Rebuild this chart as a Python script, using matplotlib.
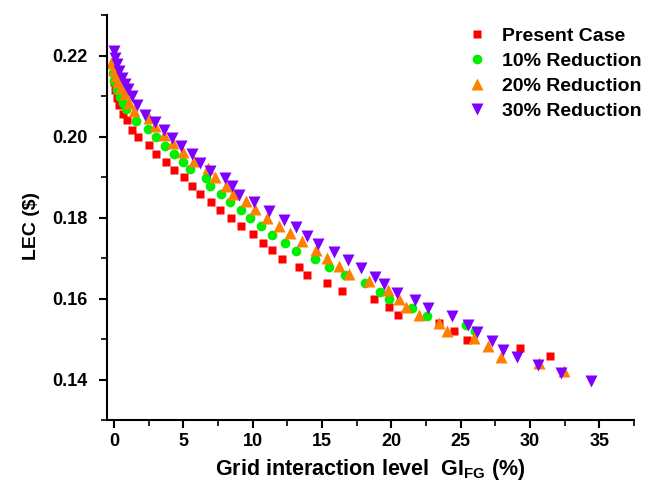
import matplotlib
matplotlib.use('Agg')
import matplotlib.pyplot as plt
from matplotlib.ticker import MultipleLocator

plt.rcParams['font.family'] = ['Liberation Sans', 'DejaVu Sans']
plt.rcParams['font.weight'] = 'bold'
plt.rcParams['mathtext.fontset'] = 'custom'
plt.rcParams['mathtext.rm'] = 'Liberation Sans:bold'
plt.rcParams['mathtext.bf'] = 'Liberation Sans:bold'
plt.rcParams['mathtext.it'] = 'Liberation Sans:bold'

# Present Case
x_present = [0.0, 0.07, 0.2, 0.38, 0.62, 0.91, 1.27, 1.75, 2.52, 3.07, 3.74, 4.32,
             5.06, 5.61, 6.19, 7.03, 7.63, 8.47, 9.19, 10.02, 10.74, 11.39, 12.14,
             13.33, 13.9, 15.35, 16.45, 18.73, 19.81, 20.48, 23.45, 24.53, 25.48,
             29.28, 31.46]
y_present = [0.2134, 0.2114, 0.2096, 0.2077, 0.2056, 0.2040, 0.2017, 0.1998, 0.1978,
             0.1958, 0.1938, 0.1918, 0.1900, 0.1878, 0.1859, 0.1838, 0.1818, 0.1799,
             0.1778, 0.1760, 0.1738, 0.1719, 0.1697, 0.1679, 0.1658, 0.1638, 0.1618,
             0.1598, 0.1579, 0.1559, 0.1539, 0.1519, 0.1498, 0.1479, 0.1458]

# 10% Reduction
x_10 = [-0.1, 0.0, 0.25, 0.45, 0.65, 0.84, 1.56, 2.47, 3.07, 3.72, 4.34, 4.99, 5.52,
        6.62, 6.91, 7.75, 8.35, 9.14, 9.83, 10.63, 11.39, 12.37, 13.14, 14.53, 15.49,
        16.69, 18.13, 19.19, 19.86, 21.49, 22.57, 25.36, 26.04]
y_10 = [0.2158, 0.2136, 0.2114, 0.2098, 0.2082, 0.2067, 0.2038, 0.2019, 0.1998, 0.1976,
        0.1957, 0.1937, 0.1919, 0.1898, 0.1879, 0.1857, 0.1838, 0.1818, 0.1798, 0.1778,
        0.1756, 0.1738, 0.1717, 0.1697, 0.1678, 0.1659, 0.1639, 0.1617, 0.1598, 0.1576,
        0.1556, 0.1536, 0.1519]

# 20% Reduction
x_20 = [-0.2, 0.0, 0.15, 0.3, 0.5, 0.77, 1.08, 1.44, 2.54, 2.95, 3.6, 4.27, 4.99, 5.78,
        6.78, 7.27, 8.06, 8.58, 9.55, 10.14, 11.03, 11.89, 12.71, 13.55, 14.58, 15.35,
        16.21, 16.93, 18.42, 19.73, 20.53, 21.06, 22.01, 23.45, 24.05, 25.97, 27.0,
        27.89, 30.65, 32.45]
y_20 = [0.2182, 0.2165, 0.2150, 0.2135, 0.2120, 0.2104, 0.2083, 0.2062, 0.2046, 0.2025,
        0.2004, 0.1983, 0.1961, 0.1939, 0.1922, 0.1901, 0.1877, 0.1859, 0.1842, 0.1821,
        0.1799, 0.1780, 0.1761, 0.1741, 0.1720, 0.1700, 0.1681, 0.1661, 0.1643, 0.1621,
        0.1598, 0.1579, 0.1560, 0.1540, 0.1519, 0.1502, 0.1482, 0.1457, 0.1441, 0.1420]

# 30% Reduction
x_30 = [0.0, 0.1, 0.25, 0.4, 0.6, 0.8, 1.0, 1.3, 1.7, 2.23, 2.95, 3.62, 4.19, 4.87,
        5.63, 6.19, 6.91, 8.04, 8.54, 9.01, 10.09, 11.17, 12.25, 13.14, 13.91, 14.7,
        15.85, 16.91, 17.82, 18.85, 19.5, 20.45, 21.73, 22.66, 24.41, 25.54, 26.21,
        27.29, 28.08, 29.09, 30.58, 32.21, 34.44]
y_30 = [0.2211, 0.2195, 0.2178, 0.2161, 0.2145, 0.2130, 0.2118, 0.2100, 0.2079, 0.2054,
        0.2035, 0.2017, 0.1997, 0.1976, 0.1957, 0.1934, 0.1916, 0.1897, 0.1877, 0.1856,
        0.1838, 0.1817, 0.1794, 0.1776, 0.1754, 0.1735, 0.1716, 0.1696, 0.1676, 0.1654,
        0.1635, 0.1615, 0.1597, 0.1577, 0.1556, 0.1535, 0.1517, 0.1496, 0.1473, 0.1455,
        0.1437, 0.1416, 0.1396]

fig = plt.figure(figsize=(6.62, 4.84), dpi=100)
ax = fig.add_axes([0.1616, 0.132, 0.796, 0.837])

ax.plot(x_present, y_present, 's', color='#ff0000', ms=6.3, mec='none', label='Present Case')
ax.plot(x_10, y_10, 'o', color='#00ee00', ms=7, mec='none', label='10% Reduction')
ax.plot(x_20, y_20, '^', color='#ff8000', ms=8.5, mec='none', label='20% Reduction')
ax.plot(x_30, y_30, 'v', color='#8000ff', ms=8.5, mec='none', label='30% Reduction')

ax.set_xlim(-0.5, 37.5)
ax.set_ylim(0.13, 0.23)
ax.xaxis.set_major_locator(MultipleLocator(5))
ax.xaxis.set_minor_locator(MultipleLocator(2.5))
ax.yaxis.set_minor_locator(MultipleLocator(0.01))
ax.set_yticks([0.14, 0.16, 0.18, 0.20, 0.22])
ax.set_yticklabels(['0.14', '0.16', '0.18', '0.20', '0.22'])

for s in ['top', 'right']:
    ax.spines[s].set_visible(False)
for s in ['left', 'bottom']:
    ax.spines[s].set_linewidth(1.5)
ax.tick_params(which='major', direction='out', length=6, width=1.5, labelsize=13)
ax.tick_params(which='minor', direction='out', length=4, width=1.2)
ax.tick_params(axis='y', which='major', pad=8)

ax.set_xlabel('Grid interaction level  GI$_{FG}$ (%)', fontsize=15.5, fontweight='bold', labelpad=5)
ax.set_ylabel('LEC ($)', fontsize=14, fontweight='bold')
ax.yaxis.set_label_coords(-0.127, 0.479)

leg = ax.legend(loc='upper left', bbox_to_anchor=(467 / 662, 0.943), bbox_transform=fig.transFigure,
                frameon=False, fontsize=14, handletextpad=0.8, labelspacing=0.37,
                handlelength=1.0, borderaxespad=0, borderpad=0)
for t in leg.get_texts():
    t.set_fontweight('bold')

fig.savefig('out.png', dpi=100)
